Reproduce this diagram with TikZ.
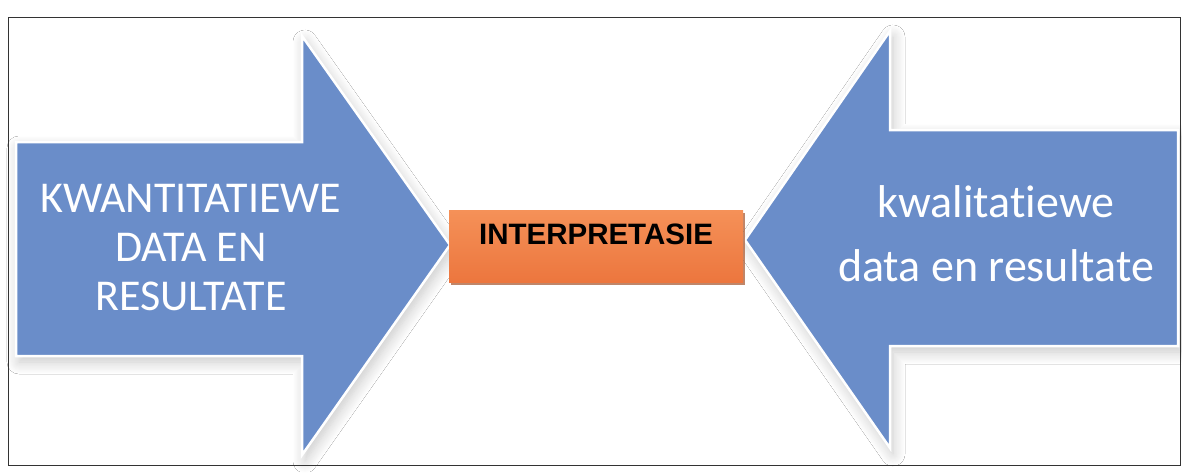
\documentclass[tikz,border=0pt]{standalone}
\usepackage{fontspec}
\setmainfont{Carlito}[Ligatures=NoCommon]
\newfontfamily\boxfont{Liberation Sans}
\usepackage{xcolor}
\usetikzlibrary{math}
\usetikzlibrary{shadows, shadows.blur}
\definecolor{arrowblue}{RGB}{106,141,201}
\definecolor{boxtop}{RGB}{245,145,88}
\definecolor{boxbottom}{RGB}{236,118,62}

\begin{document}
\begin{tikzpicture}[x=1pt,y=-1pt,
  bigarrow/.style={fill=arrowblue, draw=white, line width=2.5pt, line join=miter,
    blur shadow={shadow xshift=3pt, shadow yshift=-6pt, shadow blur steps=12,
      shadow blur radius=12pt, shadow opacity=22}},
  armtext/.style={text=white, align=center},
  interpbox/.style={top color=boxtop, bottom color=boxbottom, minimum width=294pt,
    text height=21pt, text depth=24pt, inner ysep=13.5pt,
    drop shadow={shadow xshift=1.5pt, shadow yshift=-3pt, fill=boxbottom!70!black, opacity=0.7},
    font=\boxfont\bfseries\fontsize{29.5}{30}\selectfont},
  framerule/.style={draw=black!80, line width=1pt}]
\tikzmath{
\frtop=17; \frbot=465;
\midL=245; \midR=240;
}
\useasboundingbox (0,0) rectangle (1182,472);
\fill[white] (0,0) rectangle (1182,472);

%left arrow
\draw[bigarrow] (16,142) -- (302,142) -- (302,36) -- (450,\midL) -- (302,455)
  -- (302,356) -- (16,356) -- cycle;
%right arrow
\draw[bigarrow] (1178,130) -- (890,130) -- (890,31) -- (745,\midR) -- (890,448)
  -- (890,346) -- (1178,346) -- cycle;

\node[armtext, font=\fontsize{44}{49}\selectfont] (quant) at (191,248)
  {KWANTITATIEWE\\DATA EN\\RESULTATE};
\node[armtext, font=\fontsize{46}{64}\selectfont] (qual) at (996,234)
  {kwalitatiewe\\data en resultate};

\node[interpbox] (interp) at (596,246) {INTERPRETASIE};

%frame
\draw[framerule] (8,\frtop) rectangle (1180,\frbot);
\end{tikzpicture}
\end{document}
